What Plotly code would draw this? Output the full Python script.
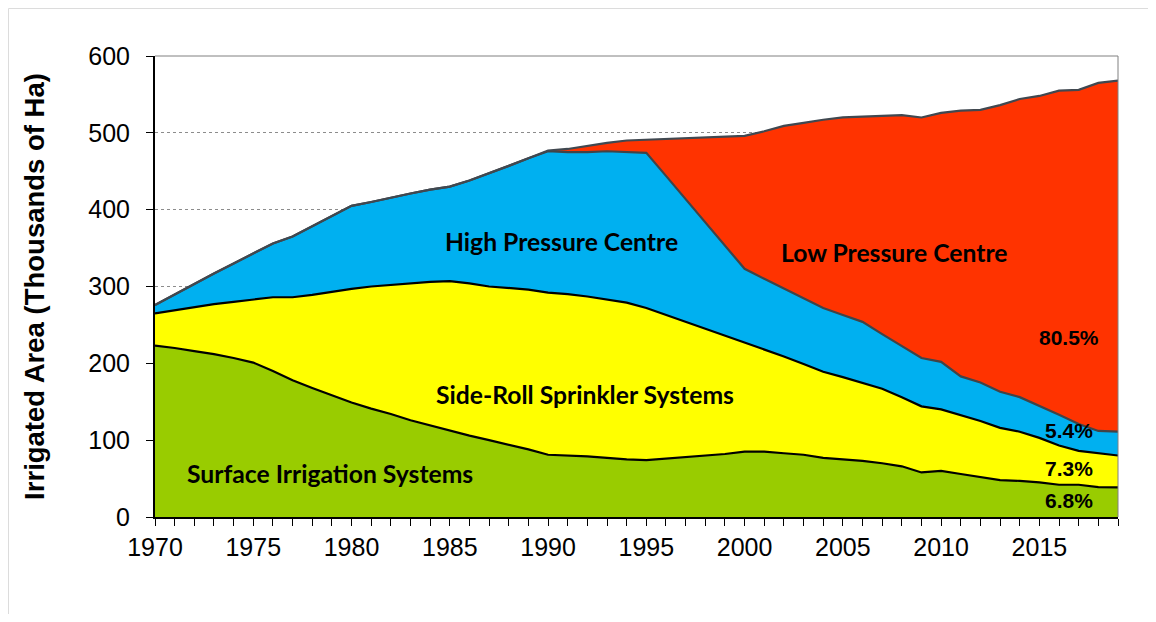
import plotly.graph_objects as go

years = list(range(1970, 2020))

# Cumulative boundaries (thousands of ha)
surface_top = [223, 220, 216, 212, 207, 201, 190, 178, 168, 158,
               149, 141, 134, 126, 119, 112, 106, 100, 94, 88,
               81, 80, 79, 77, 75, 74, 76, 78, 80, 82,
               85, 85, 83, 81, 77, 75, 73, 70, 66, 58,
               60, 56, 52, 48, 47, 45, 42, 42, 39, 38.5]
sideroll_top = [265, 269, 273, 277, 280, 283, 286, 286, 289, 293,
                297, 300, 302, 304, 306, 307, 304, 300, 298, 296,
                292, 290, 287, 283, 279, 272, 263, 254, 245, 236,
                228, 219, 209, 199, 189, 182, 175, 167, 156, 144,
                140, 133, 125, 116, 111, 103, 93, 86, 83, 80]
highpressure_top = [276, 290, 303, 317, 330, 343, 356, 365, 378, 391,
                    405, 410, 416, 421, 426, 430, 438, 447, 457, 467,
                    476, 475, 475, 476, 475, 474, 444, 414, 384, 353,
                    323, 310, 297, 284, 272, 263, 254, 238, 222, 207,
                    202, 183, 175, 163, 156, 145, 133, 121, 112, 111]
total_top = [276, 290, 303, 317, 330, 343, 356, 365, 378, 391,
             405, 410, 416, 421, 426, 430, 438, 447, 457, 467,
             477, 479, 483, 487, 490, 491, 492, 493, 494, 495,
             496, 502, 509, 513, 517, 520, 521, 522, 523, 520,
             526, 529, 530, 536, 544, 548, 555, 556, 565, 568]

area_labels = ["Surface Irrigation Systems", "Side-Roll Sprinkler Systems",
               "High Pressure Centre", "Low Pressure Centre"]
share_labels = ["6.8%", "7.3%", "5.4%", "80.5%"]

fig = go.Figure()
fig.add_trace(go.Scatter(x=years, y=surface_top, mode="lines", fill="tozeroy",
                         fillcolor="#99CC00", line=dict(color="black", width=2.2),
                         name=area_labels[0]))
fig.add_trace(go.Scatter(x=years, y=sideroll_top, mode="lines", fill="tonexty",
                         fillcolor="#FFFF00", line=dict(color="black", width=2.2),
                         name=area_labels[1]))
fig.add_trace(go.Scatter(x=years, y=highpressure_top, mode="lines", fill="tonexty",
                         fillcolor="#00B0F0", line=dict(color="#404448", width=2.2),
                         name=area_labels[2]))
fig.add_trace(go.Scatter(x=years, y=total_top, mode="lines", fill="tonexty",
                         fillcolor="#FF3300", line=dict(color="#404850", width=2.2),
                         name=area_labels[3]))

lab_font = dict(family="Lato", size=24.7, color="black", weight="bold")
pct_font = dict(family="Liberation Sans", size=21, color="black", weight="bold")
fig.add_annotation(x=1978.9, y=56, text=area_labels[0], showarrow=False, font=lab_font)
fig.add_annotation(x=1991.9, y=160, text=area_labels[1], showarrow=False, font=lab_font)
fig.add_annotation(x=1990.7, y=358, text=area_labels[2], showarrow=False, font=lab_font)
fig.add_annotation(x=2007.6, y=344, text=area_labels[3], showarrow=False, font=lab_font)
fig.add_annotation(x=2016.5, y=21, text=share_labels[0], showarrow=False, font=pct_font)
fig.add_annotation(x=2016.5, y=62.5, text=share_labels[1], showarrow=False, font=pct_font)
fig.add_annotation(x=2016.5, y=112, text=share_labels[2], showarrow=False, font=pct_font)
fig.add_annotation(x=2016.5, y=234, text=share_labels[3], showarrow=False, font=pct_font)

# plot area frame (top and right)
fig.add_shape(type="line", xref="paper", yref="paper", x0=0, x1=1, y0=1, y1=1,
              line=dict(color="#808080", width=1))
fig.add_shape(type="line", xref="paper", yref="paper", x0=1, x1=1, y0=0, y1=1,
              line=dict(color="#808080", width=1))

W, H = 1140, 606
L, T, PW, PH = 147, 48, 963, 461
fig.update_layout(
    width=W, height=H,
    margin=dict(l=L, r=W - L - PW, t=T, b=H - T - PH, pad=0),
    paper_bgcolor="white", plot_bgcolor="white",
    showlegend=False,
    font=dict(family="Liberation Sans", size=25, color="black"),
)
# light outer frame (top and left edges of the page frame)
fig.add_shape(type="line", xref="paper", yref="paper",
              x0=-(L - 0.5) / PW, x1=(W - L) / PW, y0=1 + (T - 0.5) / PH, y1=1 + (T - 0.5) / PH,
              line=dict(color="#dcdcdc", width=1))
fig.add_shape(type="line", xref="paper", yref="paper",
              x0=-(L - 0.5) / PW, x1=-(L - 0.5) / PW, y0=-(H - T - PH) / PH, y1=1 + (T - 0.5) / PH,
              line=dict(color="#dcdcdc", width=1))

fig.update_xaxes(range=[1970, 2019], tick0=1970, dtick=5, ticks="outside",
                 ticklen=7, tickwidth=1, tickcolor="black",
                 minor=dict(dtick=1, ticks="outside", ticklen=7, tickcolor="black"),
                 showline=True, linecolor="black", linewidth=2,
                 showgrid=False, zeroline=False,
                 tickfont=dict(family="Liberation Sans", size=25, color="black"))
fig.update_yaxes(range=[0, 600], dtick=100, ticks="outside", ticklen=7,
                 tickcolor="black", showline=True, linecolor="black", linewidth=2,
                 showgrid=True, gridcolor="#8c8c8c", griddash="dot", gridwidth=1,
                 zeroline=False, ticklabelstandoff=11,
                 tickfont=dict(family="Liberation Sans", size=25, color="black"),
                 title=dict(text="Irrigated Area (Thousands of Ha)", standoff=36,
                            font=dict(family="Liberation Sans", size=27.5,
                                      color="black", weight="bold")))

fig.write_html("out.html")
